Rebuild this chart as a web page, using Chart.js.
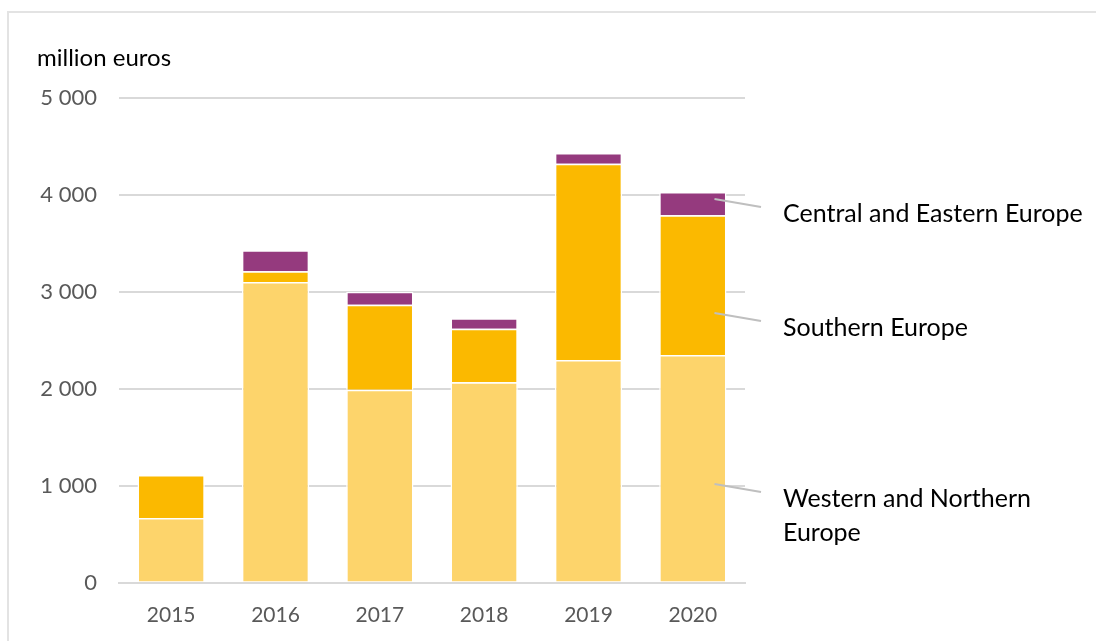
<!DOCTYPE html>
<html>
<head>
<meta charset="utf-8">
<script src="https://cdn.jsdelivr.net/npm/chart.js@4.4.1/dist/chart.umd.min.js"></script>
<style>
    html, body { margin: 0; padding: 0; background: #ffffff; overflow: hidden; }
    .wrap { position: relative; width: 1096px; height: 641px; overflow: hidden; }
    .frame {
        position: absolute; left: 7px; top: 11px; width: 1400px; height: 900px;
        border-top: 2px solid #e3e3e3; border-left: 2px solid #e3e3e3;
        box-sizing: border-box;
    }
    canvas { position: absolute; left: 0; top: 0; }
</style>
</head>
<body>
<div class="wrap">
    <div class="frame"></div>
    <canvas id="regionChart" width="1096" height="641"></canvas>
</div>
<script>
// Data
const years = ['2015', '2016', '2017', '2018', '2019', '2020'];
const westernNorthern = [665, 3100, 1990, 2066, 2296, 2348];
const southern = [445, 112, 877, 553, 2026, 1441];
const centralEastern = [0, 218, 134, 108, 110, 241];
const yTicks = [0, 1000, 2000, 3000, 4000, 5000];

const FONT = 'Lato, "Open Sans", sans-serif';

// labels on the right side, pointing into the last bar
const sideLabels = [
    { dataset: 2, lines: ['Central and Eastern Europe'], frac: 0.3 },
    { dataset: 1, lines: ['Southern Europe'], frac: 0.7 },
    { dataset: 0, lines: ['Western and Northern', 'Europe'], frac: 0.57 }
];

function formatThousands(v) {
    return String(v).replace(/\B(?=(\d{3})+(?!\d))/g, ' ');
}

const sideLabelPlugin = {
    id: 'sideLabels',
    afterDraw(chart) {
        const ctx = chart.ctx;
        const area = chart.chartArea;
        ctx.save();
        sideLabels.forEach(item => {
            const meta = chart.getDatasetMeta(item.dataset);
            const bar = meta.data[meta.data.length - 1];
            const top = Math.min(bar.y, bar.base);
            const bottom = Math.max(bar.y, bar.base);
            const x0 = bar.x + bar.width / 2 - 12;
            const y0 = top + (bottom - top) * item.frac;
            const x1 = area.right + 16;
            const y1 = y0 + 8;

            ctx.strokeStyle = '#bfbfbf';
            ctx.lineWidth = 2;
            ctx.beginPath();
            ctx.moveTo(x0, y0);
            ctx.lineTo(x1, y1);
            ctx.stroke();

            ctx.fillStyle = '#000000';
            ctx.font = '25px ' + FONT;
            ctx.textAlign = 'left';
            ctx.textBaseline = 'middle';
            item.lines.forEach((line, i) => {
                ctx.fillText(line, area.right + 38, y1 + 7 + i * 34);
            });
        });

        // unit label
        ctx.fillStyle = '#000000';
        ctx.font = '24px ' + FONT;
        ctx.textAlign = 'left';
        ctx.textBaseline = 'middle';
        ctx.fillText('million euros', 37, 58);
        ctx.restore();
    }
};

const ctx = document.getElementById('regionChart').getContext('2d');

const barStyle = {
    borderColor: '#ffffff',
    borderWidth: 1.5,
    borderSkipped: 'start',
    barPercentage: 0.645,
    categoryPercentage: 1.0
};

new Chart(ctx, {
    type: 'bar',
    data: {
        labels: years,
        datasets: [
            Object.assign({ label: 'Western and Northern Europe', data: westernNorthern, backgroundColor: '#fdd46b' }, barStyle),
            Object.assign({ label: 'Southern Europe', data: southern, backgroundColor: '#fbb900' }, barStyle),
            Object.assign({ label: 'Central and Eastern Europe', data: centralEastern, backgroundColor: '#953a7e' }, barStyle)
        ]
    },
    options: {
        responsive: false,
        animation: false,
        layout: {
            padding: { top: 98, right: 351, bottom: 0, left: 0 }
        },
        plugins: {
            legend: { display: false },
            tooltip: { enabled: false }
        },
        scales: {
            x: {
                stacked: true,
                grid: { display: false, drawTicks: false },
                border: { display: true, color: '#d9d9d9', width: 2 },
                ticks: {
                    color: '#595959',
                    font: { family: FONT, size: 21 },
                    padding: 20
                },
                afterFit: function(scale) { scale.height = 58.5; }
            },
            y: {
                stacked: true,
                min: 0,
                max: 5000,
                afterBuildTicks: function(scale) {
                    scale.ticks = yTicks.map(v => ({ value: v }));
                },
                grid: { color: '#d9d9d9', lineWidth: 2, drawTicks: false },
                border: { display: false },
                ticks: {
                    color: '#595959',
                    font: { family: FONT, size: 22 },
                    padding: 22,
                    callback: function(value) { return formatThousands(value); }
                },
                afterFit: function(scale) { scale.width = 119; }
            }
        }
    },
    plugins: [sideLabelPlugin]
});
</script>
</body>
</html>
